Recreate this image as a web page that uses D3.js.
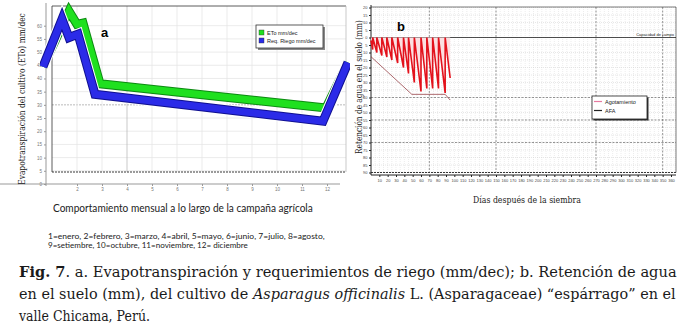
<!DOCTYPE html>
<html><head><meta charset="utf-8">
<script src="https://cdn.jsdelivr.net/npm/d3@7"></script>
<style>body{margin:0;background:#fff}svg{display:block}</style>
</head><body><svg id="c" width="690" height="330"></svg>
<script>
// ---------- data: panel a ----------
const monthTicks = [2,3,4,5,6,7,8,9,10,11,12];
const yTicksA = [0,5,10,15,20,25,30,35,40,45,50,55,60];
const etoMonths  = [0.64, 1.68, 2.00, 2.24, 2.92, 11.96, 12.84];
const etoValues  = [44.5, 65.5, 60.5, 61.0, 38.0, 28.8, 46.0];
const riegoMonths = [0.64, 1.40, 1.68, 2.04, 2.72, 11.84, 12.84];
const riegoValues = [44.5, 62.5, 55.5, 56.8, 34.0, 23.8, 46.0];
const legendA = ["ETo mm/dec", "Req. Riego mm/dec"];
// ---------- data: panel b ----------
const dayTicks = [10,20,30,40,50,60,70,80,90,100,110,120,130,140,150,160,170,180,190,200,210,220,230,240,250,260,270,280,290,300,310,320,330,340,350,360];
const yTicksB = [20,15,10,5,0,-5,-10,-15,-20,-25,-30,-35,-40,-45,-50,-55,-60,-65,-70,-75,-80,-85,-90];
const agotDays   = [0, 2, 2, 7, 7, 13, 13, 19, 19, 25, 25, 32, 32, 39, 39, 45, 45, 52, 52, 60, 60, 67, 67, 74, 74, 81, 81, 89, 89, 95];
const agotValues = [-2, -8, 0, -10, 0, -12, 0, -13, 0, -15, 0, -17, 0, -20, 0, -24, 0, -30, 0, -36, 0, -34, 0, -34, 0, -34, 0, -37, 0, -27];
const afaDays   = [0, 49, 89, 95];
const afaValues = [-12.8, -37.9, -37.9, -41.7];
const legendB = ["Agotamiento", "AFA"];

const svg = d3.select("#c");
const serif = "DejaVu Serif";
const sans = "Liberation Sans, Arial, sans-serif";

// scale a text horizontally (along its direction) so that it spans `target` px
function fit(sel, x, y, target, rot, anchor) {
  const w = sel.node().getComputedTextLength();
  const s = target / w;
  sel.attr("x", 0).attr("y", 0).attr("text-anchor", anchor || "start")
     .attr("transform", `translate(${x},${y})${rot ? " rotate(-90)" : ""} scale(${s},1)`);
  return sel;
}

// ================= PANEL A =================
const xa = d3.scaleLinear().domain([1, 12]).range([52, 327]);
const ya = d3.scaleLinear().domain([0, 60]).range([184, 25.7]);
const ga = svg.append("g");
const fa = {l:52, r:346, t:6, b:172};
ga.selectAll(".hg").data(yTicksA.filter(v => ya(v) > fa.t && ya(v) < fa.b)).join("line")
  .attr("x1", fa.l).attr("x2", fa.r).attr("y1", d => ya(d)).attr("y2", d => ya(d))
  .attr("stroke", d => d === 30 ? "#aaa" : "#e6e6e6").attr("stroke-dasharray", d => d === 30 ? "2,1" : null).attr("stroke-width", 0.8);
ga.selectAll(".vg").data(monthTicks.filter(m => xa(m) < fa.r)).join("line")
  .attr("x1", d => xa(d)).attr("x2", d => xa(d)).attr("y1", fa.t).attr("y2", fa.b)
  .attr("stroke", d => d === 4 ? "#bbb" : "#e6e6e6").attr("stroke-width", 0.8);
ga.append("line").attr("x1", fa.l).attr("x2", fa.r).attr("y1", fa.t).attr("y2", fa.t).attr("stroke", "#333").attr("stroke-width", 0.8);
ga.append("line").attr("x1", fa.l).attr("x2", fa.l).attr("y1", fa.t).attr("y2", fa.b).attr("stroke", "#333").attr("stroke-width", 0.8);
ga.append("line").attr("x1", fa.r).attr("x2", fa.r).attr("y1", fa.t).attr("y2", fa.b).attr("stroke", "#bbb").attr("stroke-width", 0.8);
ga.append("line").attr("x1", fa.l).attr("x2", fa.r).attr("y1", fa.b).attr("y2", fa.b).attr("stroke", "#222").attr("stroke-width", 0.9).attr("stroke-dasharray", "2,1");
const axAY = ga.append("g").attr("transform", "translate(46,0)")
  .call(d3.axisLeft(ya).tickValues(yTicksA).tickSize(2).tickPadding(2).tickFormat(d3.format("d")));
const axAX = ga.append("g").attr("transform", "translate(0,184)")
  .call(d3.axisBottom(xa).tickValues(monthTicks).tickSize(2).tickPadding(2));
[axAY, axAX].forEach(a => {
  a.selectAll("path,line").attr("stroke", "#999");
  a.selectAll("text").attr("font-size", 4.5).attr("fill", "#777").attr("font-family", sans);
});
axAY.select("path").attr("d", "M0,3V186");
axAX.select("path").attr("d", "M0,0H340");

const lineA = d3.line().x(d => xa(d[0])).y(d => ya(d[1]));
const eto = etoMonths.map((m, i) => [m, etoValues[i]]);
const rie = riegoMonths.map((m, i) => [m, riegoValues[i]]);
svg.append("clipPath").attr("id", "cla").append("rect").attr("x", 40).attr("y", 0).attr("width", 310).attr("height", 190);
const gl = ga.append("g").attr("clip-path", "url(#cla)");
gl.append("path").attr("d", lineA(eto)).attr("fill", "none").attr("stroke", "#0d8a12").attr("stroke-width", 9).attr("stroke-linejoin", "miter");
gl.append("path").attr("d", lineA(eto)).attr("fill", "none").attr("stroke", "#1fe01f").attr("stroke-width", 7).attr("stroke-linejoin", "miter");
gl.append("path").attr("d", lineA(rie)).attr("fill", "none").attr("stroke", "#fff").attr("stroke-width", 11).attr("stroke-linejoin", "miter");
gl.append("path").attr("d", lineA(rie)).attr("fill", "none").attr("stroke", "#101090").attr("stroke-width", 9).attr("stroke-linejoin", "miter");
gl.append("path").attr("d", lineA(rie)).attr("fill", "none").attr("stroke", "#2b2be8").attr("stroke-width", 7).attr("stroke-linejoin", "miter");

const la = ga.append("g").attr("transform", "translate(256,25)");
la.append("rect").attr("x", 2).attr("y", 2).attr("width", 67).attr("height", 23).attr("fill", "#888");
la.append("rect").attr("width", 67).attr("height", 23).attr("fill", "#fff").attr("stroke", "#333").attr("stroke-width", 0.8);
const colA = ["#1fe01f", "#2b2be8"];
legendA.forEach((t, i) => {
  la.append("rect").attr("x", 3).attr("y", 5 + i * 8).attr("width", 5).attr("height", 5).attr("fill", colA[i]).attr("stroke", "#333").attr("stroke-width", 0.4);
  la.append("text").attr("x", 11).attr("y", 9.5 + i * 8).attr("font-size", 5.5).attr("font-family", sans).attr("fill", "#222").text(t);
});
ga.append("text").attr("x", 101).attr("y", 37).attr("font-size", 13).attr("font-weight", "bold").attr("font-family", sans).text("a");
fit(ga.append("text").attr("font-family", serif).attr("font-size", 9.5).attr("fill", "#222")
  .text("Evapotranspiración del cultivo (ETo) mm/dec"), 25, 99, 172, true, "middle");
fit(ga.append("text").attr("font-family", "Lato, sans-serif").attr("font-size", 10.5).attr("fill", "#222")
  .text("Comportamiento mensual a lo largo de la campaña agrícola"), 53, 212, 260);
fit(ga.append("text").attr("font-family", "Lato, sans-serif").attr("font-size", 7.3).attr("fill", "#222")
  .text("1=enero, 2=febrero, 3=marzo, 4=abril, 5=mayo, 6=junio, 7=julio, 8=agosto,"), 48, 239, 277);
fit(ga.append("text").attr("font-family", "Lato, sans-serif").attr("font-size", 7.3).attr("fill", "#222")
  .text("9=setiembre, 10=octubre, 11=noviembre, 12= diciembre"), 48, 247.5, 200);

// ================= PANEL B =================
const xb = d3.scaleLinear().domain([0, 360]).range([371, 671]);
const yb = d3.scaleLinear().domain([-90, 20]).range([172.5, 7.5]);
const gb = svg.append("g");
const fb = {l:371, r:676, t:7, b:172.5};
const minorDays = d3.range(5, 366, 5);
gb.selectAll(".mv").data(minorDays).join("line")
  .attr("x1", d => xb(d)).attr("x2", d => xb(d)).attr("y1", fb.t).attr("y2", fb.b)
  .attr("stroke", "#d8d8d8").attr("stroke-width", 0.5).attr("stroke-dasharray", "1,1");
gb.selectAll(".mh").data(yTicksB).join("line")
  .attr("x1", fb.l).attr("x2", fb.r).attr("y1", d => yb(d)).attr("y2", d => yb(d))
  .attr("stroke", "#cfcfcf").attr("stroke-width", 0.5).attr("stroke-dasharray", "1,1");
const majorDays = [70, 150, 270, 350];
gb.selectAll(".Mv").data(majorDays).join("line")
  .attr("x1", d => xb(d)).attr("x2", d => xb(d)).attr("y1", fb.t).attr("y2", fb.b)
  .attr("stroke", "#555").attr("stroke-width", 0.6).attr("stroke-dasharray", "2,1.5");
const majorVals = [-40, -55, -70];
gb.selectAll(".Mh").data(majorVals).join("line")
  .attr("x1", fb.l).attr("x2", fb.r).attr("y1", d => yb(d)).attr("y2", d => yb(d))
  .attr("stroke", "#555").attr("stroke-width", 0.6).attr("stroke-dasharray", "2,1.5");
gb.append("line").attr("x1", fb.l).attr("x2", fb.r).attr("y1", fb.t).attr("y2", fb.t).attr("stroke", "#444").attr("stroke-width", 0.7);
gb.append("line").attr("x1", fb.r).attr("x2", fb.r).attr("y1", fb.t).attr("y2", fb.b).attr("stroke", "#444").attr("stroke-width", 0.7);
gb.append("line").attr("x1", fb.l).attr("x2", fb.r).attr("y1", fb.b).attr("y2", fb.b).attr("stroke", "#222").attr("stroke-width", 0.9).attr("stroke-dasharray", "2,1");
gb.append("line").attr("x1", fb.l).attr("x2", fb.r).attr("y1", yb(0)).attr("y2", yb(0)).attr("stroke", "#222").attr("stroke-width", 0.8);
gb.append("text").attr("x", 674).attr("y", yb(0) - 1.5).attr("text-anchor", "end").attr("font-size", 4).attr("font-family", sans).attr("fill", "#222").text("Capacidad de campo");
const axBY = gb.append("g").attr("transform", "translate(371,0)")
  .call(d3.axisLeft(yb).tickValues(yTicksB).tickSize(2).tickPadding(1.5).tickFormat(d => Math.abs(d)));
const axBX = gb.append("g").attr("transform", "translate(0,175)")
  .call(d3.axisBottom(xb).tickValues(dayTicks).tickSize(2).tickPadding(2));
[axBY, axBX].forEach(a => {
  a.selectAll("path,line").attr("stroke", "#222");
  a.selectAll("text").attr("font-size", 4).attr("fill", "#444").attr("font-family", sans);
});
axBY.select("path").attr("d", "M0,5V175");
axBX.select("path").attr("d", "M371,0H676");

const lineB = d3.line().x(d => xb(d[0])).y(d => yb(d[1]));
const agot = agotDays.map((d, i) => [d, agotValues[i]]);
const afa = afaDays.map((d, i) => [d, afaValues[i]]);
const areaB = d3.area().x(d => xb(d[0])).y0(yb(0)).y1(d => yb(d[1]));
gb.append("path").attr("d", areaB(agot)).attr("fill", "#fbe0e2");
gb.append("path").attr("d", lineB(afa)).attr("fill", "none").attr("stroke", "#8a2a30").attr("stroke-width", 0.7);
gb.append("path").attr("d", lineB(agot)).attr("fill", "none").attr("stroke", "#e3121c").attr("stroke-width", 1.6).attr("stroke-linejoin", "miter");

const lb = gb.append("g").attr("transform", "translate(592,96)");
lb.append("rect").attr("x", 1.5).attr("y", 1.5).attr("width", 55).attr("height", 23).attr("fill", "#333");
lb.append("rect").attr("width", 55).attr("height", 23).attr("fill", "#fff").attr("stroke", "#222").attr("stroke-width", 0.8);
const colB = ["#e87aa0", "#222"];
legendB.forEach((t, i) => {
  lb.append("line").attr("x1", 2).attr("x2", 10).attr("y1", 5.5 + i * 9).attr("y2", 5.5 + i * 9).attr("stroke", colB[i]).attr("stroke-width", 1.2);
  lb.append("text").attr("x", 13).attr("y", 8 + i * 9).attr("font-size", 5.5).attr("font-family", sans).attr("fill", "#222").text(t);
});
gb.append("text").attr("x", 397).attr("y", 31).attr("font-size", 13).attr("font-weight", "bold").attr("font-family", sans).text("b");
fit(gb.append("text").attr("font-family", serif).attr("font-size", 9.5).attr("fill", "#222")
  .text("Retención de agua en el suelo (mm)"), 362, 87, 134, true, "middle");
fit(gb.append("text").attr("font-family", serif).attr("font-size", 9.5).attr("fill", "#222")
  .text("Días después de la siembra"), 527, 203, 108, false, "middle");

// ================= CAPTION =================
const cap = svg.append("g").attr("font-family", serif).attr("font-size", 15).attr("fill", "#1a1a1a");
const c1 = cap.append("text");
c1.append("tspan").attr("font-weight", "bold").text("Fig. 7");
c1.append("tspan").text(". a. Evapotranspiración y requerimientos de riego (mm/dec); b. Retención de agua");
fit(c1, 19, 277, 658);
const c2 = cap.append("text");
c2.append("tspan").text("en el suelo (mm), del cultivo de ");
c2.append("tspan").attr("font-style", "italic").text("Asparagus officinalis");
c2.append("tspan").text(" L. (Asparagaceae) “espárrago” en el");
fit(c2, 19, 299, 657);
fit(cap.append("text").text("valle Chicama, Perú."), 19, 321, 131);
</script></body></html>
